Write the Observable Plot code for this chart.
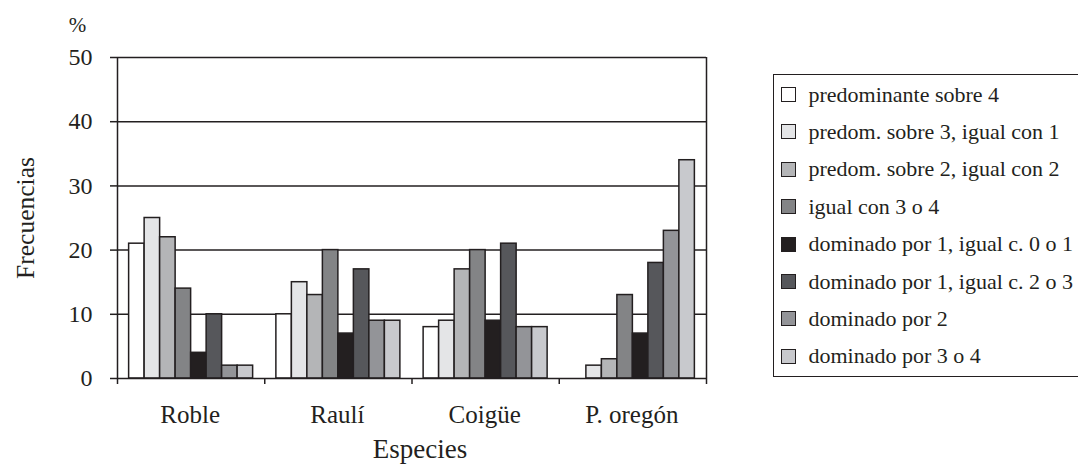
<!DOCTYPE html>
<html>
<head>
<meta charset="utf-8">
<script src="https://cdn.jsdelivr.net/npm/d3@7"></script>
<script src="https://cdn.jsdelivr.net/npm/@observablehq/plot@0.6"></script>
<style>
  html, body { margin: 0; padding: 0; background: #fff; }
  #wrap { position: relative; width: 1078px; height: 475px; overflow: hidden; font-family: 'Liberation Serif', 'Tinos', 'Times New Roman', 'DejaVu Serif', serif; }
  #wrap svg text { font-family: 'Liberation Serif', 'Tinos', 'Times New Roman', 'DejaVu Serif', serif; }
  #legend { position: absolute; left: 773px; top: 74px; width: 320px; height: 303px; border: 1.5px solid #231f20; box-sizing: border-box; background: #fff; }
  .row { position: absolute; left: 6.5px; height: 20px; display: flex; align-items: center; font-size: 22px; color: #231f20; white-space: nowrap; }
  .sw { width: 15px; height: 15px; box-sizing: border-box; border: 1.5px solid #231f20; margin-right: 13px; flex: none; }
</style>
</head>
<body>
<div id="wrap"></div>
<script>
const species = ["Roble", "Raulí", "Coigüe", "P. oregón"];
const categories = [
  "predominante sobre 4",
  "predom. sobre 3, igual con 1",
  "predom. sobre 2, igual con 2",
  "igual con 3 o 4",
  "dominado por 1, igual c. 0 o 1",
  "dominado por 1, igual c. 2 o 3",
  "dominado por 2",
  "dominado por 3 o 4"
];
const roble    = [21, 25, 22, 14, 4, 10, 2, 2];
const rauli    = [10, 15, 13, 20, 7, 17, 9, 9];
const coigue   = [8, 9, 17, 20, 9, 21, 8, 8];
const pOregon  = [0, 2, 3, 13, 7, 18, 23, 34];
const yTicks = [0, 10, 20, 30, 40, 50];

const colors = ["#ffffff", "#e4e5e7", "#b4b5b7", "#838486", "#231f20", "#56575b", "#939498", "#c8c9cd"];
const ink = "#231f20";
const serif = "'Liberation Serif', 'Tinos', 'Times New Roman', 'DejaVu Serif', serif";

const series = [roble, rauli, coigue, pOregon];
const data = [];
series.forEach((vals, si) => vals.forEach((v, ci) => data.push({si, ci, species: species[si], category: categories[ci], value: v})));

// group layout: 8 bars plus 0.75 bar-width padding each side
const slots = categories.length + 1.5;

const chart = Plot.plot({
  width: 1078,
  height: 475,
  marginLeft: 117,
  marginRight: 372,
  marginTop: 57,
  marginBottom: 97,
  style: {fontFamily: serif, fontSize: "24px", color: ink, background: "transparent", overflow: "visible"},
  x: {domain: [0, species.length], axis: null},
  y: {domain: [0, 50], axis: null},
  color: {domain: categories, range: colors},
  marks: [
    Plot.gridY(yTicks.filter(d => d > 0), {stroke: ink, strokeOpacity: 1, strokeWidth: 1.5}),
    Plot.rectY(data, {
      x1: d => d.si + (d.ci + 0.75) / slots,
      x2: d => d.si + (d.ci + 1.75) / slots,
      y: "value",
      fill: "category",
      stroke: ink,
      strokeWidth: 1.5
    }),
    Plot.ruleX([0, species.length], {stroke: ink, strokeWidth: 1.5}),
    Plot.ruleY([0], {stroke: ink, strokeWidth: 1.5}),
    Plot.axisX({ticks: d3.range(species.length + 1), tickFormat: () => "", tickSize: 6, stroke: ink, strokeWidth: 1.5}),
    Plot.axisY({ticks: yTicks, tickSize: 7, tickPadding: 18, stroke: ink, strokeWidth: 1.5, fontSize: 24, fill: ink, label: null}),
    Plot.text(species, {x: (d, i) => i + 0.5, y: 0, dy: 36, dx: -1, text: d => d, fontSize: 25, fill: ink}),
    Plot.text(["Especies"], {frameAnchor: "bottom", textAnchor: "middle", dy: 79, dx: 8, text: d => d, fontSize: 27, fill: ink}),
    Plot.text(["Frecuencias"], {frameAnchor: "left", textAnchor: "middle", dx: -92, rotate: -90, text: d => d, fontSize: 25.5, fill: ink}),
    Plot.text(["%"], {frameAnchor: "top-left", textAnchor: "middle", dx: -40, dy: -40, text: d => d, fontSize: 21, fill: ink})
  ]
});

const wrap = document.getElementById("wrap");
wrap.appendChild(chart);

const legend = document.createElement("div");
legend.id = "legend";
categories.forEach((c, i) => {
  const row = document.createElement("div");
  row.className = "row";
  row.style.top = (9.5 + i * 37.4) + "px";
  const sw = document.createElement("span");
  sw.className = "sw";
  sw.style.background = colors[i];
  const t = document.createElement("span");
  t.textContent = c;
  row.appendChild(sw);
  row.appendChild(t);
  legend.appendChild(row);
});
wrap.appendChild(legend);
</script>
</body>
</html>
